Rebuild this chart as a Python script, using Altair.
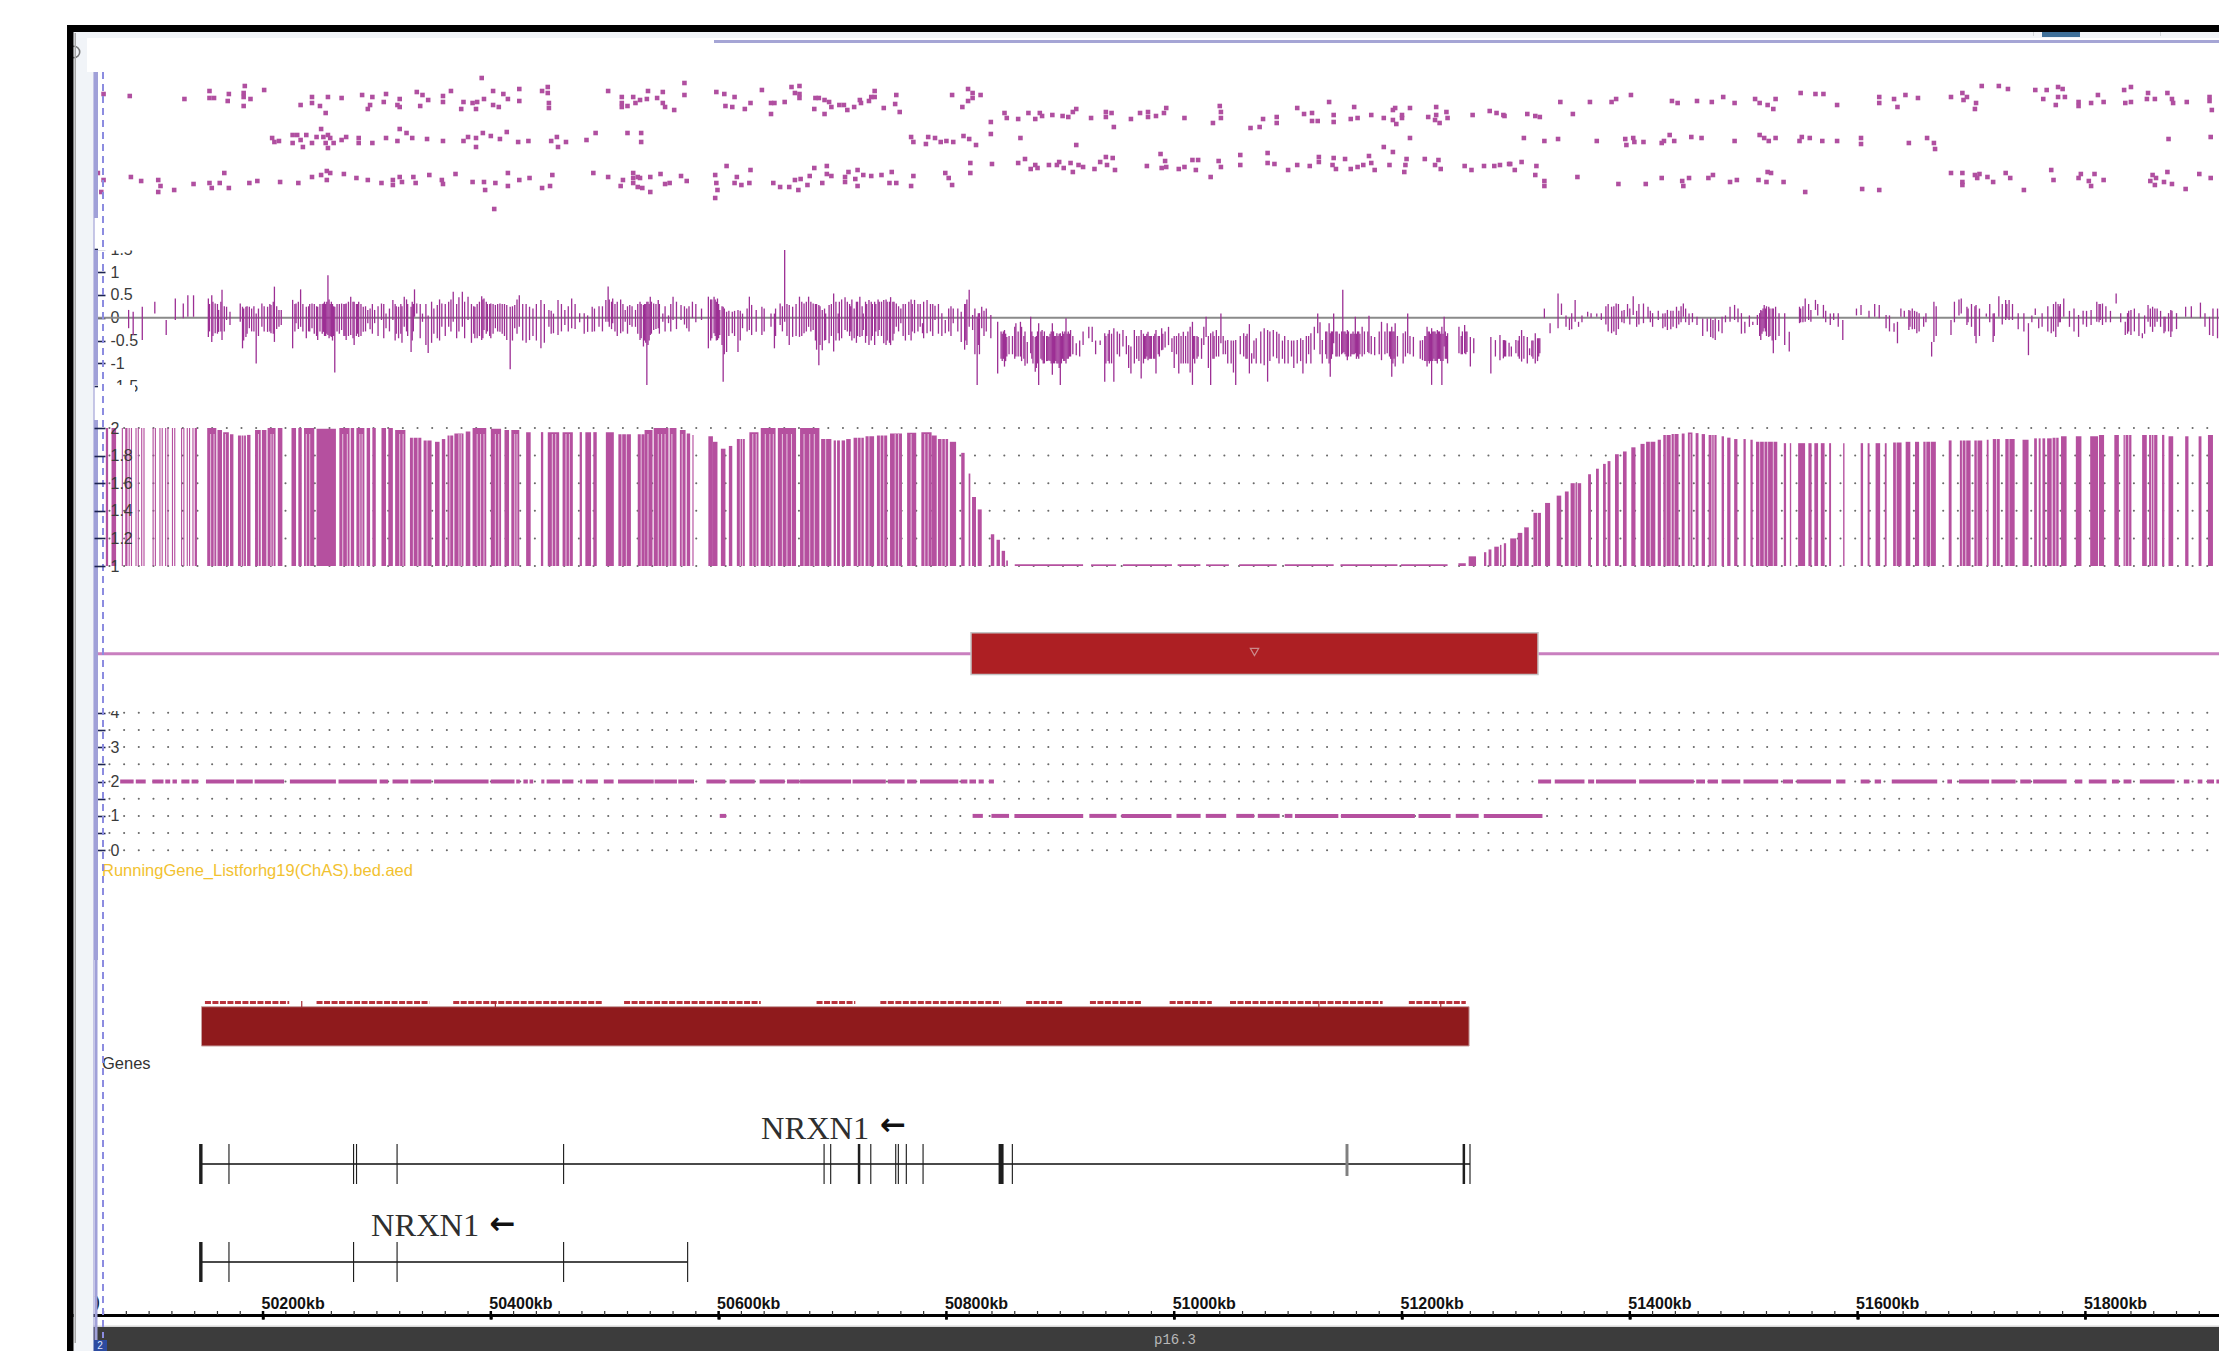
import altair as alt
import pandas as pd

W, H = 2211, 1343
X_MIN, X_MAX = 49976.1, 51917.3

# ---- track 1: scatter, three rows (kb, score)
scatter_top = [(50060,124),(50083,122),(50131,119),(50153,127),(50153,120),(50157,120),(50170,124),(50169,117),(50184,132),(50183,125),(50183,121),(50189,119),(50183,112),(50201,128),(50233,113),(50243,121),(50243,115),(50250,112),(50255,105),(50257,121),(50269,120),(50287,123),(50296,121),(50294,113),(50292,109),(50308,124),(50306,116),(50320,119),(50318,113),(50320,111),(50335,126),(50340,123),(50345,118),(50338,112),(50358,122),(50358,116),(50365,127),(50376,116),(50374,109),(50384,115),(50388,116),(50387,109),(50394,119),(50392,140),(50402,127),(50402,113),(50407,111),(50411,124),(50415,119),(50425,129),(50425,117),(50445,127),(50450,131),(50450,125),(50451,115),(50451,110),(50503,127),(50515,121),(50515,115),(50515,111),(50520,112),(50525,121),(50527,115),(50531,118),(50538,127),(50537,119),(50551,126),(50546,120),(50551,115),(50553,111),(50561,108),(50570,135),(50570,123),(50598,126),(50605,124),(50614,121),(50606,112),(50612,111),(50623,109),(50628,115),
(50638,128),(50646,115),(50649,115),(50646,104),(50658,116),(50664,131),(50671,132),(50667,125),(50671,124),(50671,120),(50685,120),(50688,120),(50684,109),(50693,118),(50697,116),(50693,104),(50699,111),(50706,113),(50710,113),(50713,108),(50719,111),(50724,118),(50725,115),(50732,117),(50737,127),(50734,121),(50737,121),(50745,110),(50756,123),(50755,114),(50759,106),(50805,123),(50814,111),(50819,129),(50823,125),(50823,120),(50819,117),(50830,123),(50839,96),(50851,105),(50853,100),(50863,99),(50872,105),(50878,99),(50882,105),(50884,102),(50893,103),(50902,102),(50907,101),(50911,106),(50914,109),(50927,100),(50940,106),(50940,101),(50945,105),(50947,91),(50962,99),(50970,105),(50977,106),(50977,101),(50984,102),(50991,105),(50993,110),(51009,100),(51040,112),(51041,106),(51041,100),(51034,95),(51067,90),(51075,91),(51078,99),(51090,101),(51090,95),(51108,110),(51114,104),(51121,105),(51121,97),(51126,97),(51136,116),(51140,103),(51140,96),(51155,99),(51158,111),(51161,100),(51173,103),(51184,100),(51192,108),(51194,110),(51200,103),(51207,110),(51192,98),(51195,94),(51200,100),(51223,101),(51230,111),(51230,103),(51229,98),(51233,95),(51239,106),(51240,100),(51262,103),(51277,107),(51283,105),(51289,103),
(51290,102),(51310,104),(51317,102),(51321,101),(51339,116),(51350,104),(51365,116),(51384,116),(51388,119),(51401,123),(51437,117),(51442,115),(51459,117),(51472,116),(51482,121),(51492,115),(51510,119),(51514,115),(51521,113),(51526,109),(51528,119),(51550,125),(51563,124),(51570,124),(51582,113),(51619,121),(51619,115),(51632,119),(51635,111),(51642,123),(51653,120),(51682,121),(51692,125),(51693,118),(51696,121),(51704,115),(51703,109),(51709,132),(51724,132),(51732,129),(51756,128),(51766,128),(51763,119),(51774,113),(51776,121),(51776,131),(51780,129),(51782,121),(51794,116),(51794,112),(51805,115),(51811,123),(51816,116),(51834,128),(51840,131),(51835,115),(51840,116),(51855,125),(51854,119),(51861,119),(51872,125),(51876,119),(51877,115),(51889,116),(51909,121),(51909,117),(51911,108)]
scatter_mid = [(50208,80),(50210,76),(50214,77),(50226,83),(50226,75),(50230,83),(50233,78),(50235,71),(50238,83),(50243,75),(50247,81),(50251,89),(50253,81),(50257,83),(50255,75),(50259,80),(50262,75),(50257,70),(50269,78),(50273,81),(50284,80),(50284,75),(50296,75),(50308,80),(50318,77),(50320,89),(50326,85),(50331,80),(50344,79),(50358,77),(50376,77),(50380,81),(50387,80),(50387,71),(50393,85),(50400,82),(50408,79),(50414,86),(50424,76),(50433,77),(50453,77),(50458,81),(50459,71),(50466,76),(50484,78),(50492,85),(50520,85),(50532,85),(50532,76),
(50769,81),(50771,76),(50782,74),(50784,81),(50790,80),(50795,76),(50800,77),(50806,76),(50815,82),(50820,79),(50826,73),(50839,84),(50865,80),(50914,73),(51207,80),
(51307,80),(51325,77),(51337,79),(51371,77),(51396,79),(51397,73),(51403,80),(51404,76),(51412,76),(51428,75),(51430,77),(51435,83),(51439,77),(51454,81),(51463,80),(51492,77),(51514,83),(51518,80),(51522,77),(51528,80),(51549,77),(51551,81),(51558,80),(51569,77),(51582,77),(51603,80),(51603,74),(51645,75),(51661,80),(51667,75),(51668,69),(51873,79),(51910,81)]
scatter_low = [(50055,45),(50060,38),(50058,26),(50084,41),(50093,37),(50108,38),(50110,32),(50108,26),(50122,28),(50139,34),(50153,35),(50155,30),(50162,35),(50166,45),(50170,30),(50188,35),(50195,37),(50215,36),(50231,35),(50243,41),(50251,43),(50256,47),(50259,45),(50256,38),(50271,44),(50282,40),(50292,38),(50304,35),(50314,38),(50314,33),(50322,36),(50320,41),(50332,41),(50334,35),(50346,43),(50357,38),(50358,34),(50369,44),(50384,36),(50394,36),(50395,28),(50404,35),(50403,9),(50415,45),(50415,32),(50425,38),(50434,40),(50445,30),(50452,32),(50454,43),(50490,45),(50503,41),(50516,38),(50514,32),(50525,45),(50525,40),(50525,35),(50529,41),(50529,31),(50531,40),(50533,30),(50540,41),(50540,26),(50549,44),(50553,34),(50557,35),(50567,42),(50572,37),(50597,43),(50598,35),(50599,28),(50597,20),(50607,52),(50614,35),(50616,41),(50620,33),(50628,48),(50627,35),
(50648,35),(50654,31),(50662,31),(50667,38),(50672,39),(50670,28),(50678,33),(50680,42),(50684,50),(50691,35),(50695,52),(50695,44),(50699,42),(50711,41),(50711,36),(50714,46),(50720,39),(50722,48),(50722,32),(50727,43),(50734,42),(50743,43),(50750,35),(50752,46),(50756,35),(50769,32),(50771,42),(50799,45),(50802,40),(50805,33),(50821,55),(50821,45),(50840,54),(50863,55),(50869,59),(50874,49),(50878,53),(50880,50),(50890,53),(50897,53),(50899,56),(50903,50),(50909,55),(50911,46),(50916,53),(50920,51),(50930,49),(50935,56),(50940,61),(50941,53),(50946,60),(50948,48),(50976,52),(50988,64),(50992,57),(50989,50),(50993,51),(51004,49),(51009,51),(51016,58),(51021,58),(51019,48),(51032,41),(51039,57),(51041,51),(51058,63),(51058,53),(51082,65),(51082,55),(51088,54),(51100,48),(51108,53),(51119,52),(51127,61),(51127,56),(51139,53),(51140,60),(51142,49),(51150,59),(51155,49),(51161,51),(51166,53),(51171,62),(51176,48),(51173,55),(51184,71),(51189,53),(51192,66),(51204,59),(51203,53),(51202,46),(51220,59),(51229,53),(51232,58),(51234,49),(51255,52),(51261,48),(51272,52),(51281,52),(51286,53),(51294,54),
(51295,54),(51305,56),(51299,48),(51318,52),(51317,43),(51325,37),(51325,32),(51354,41),(51390,34),(51414,34),(51428,40),(51446,37),(51447,32),(51452,40),(51469,40),(51473,43),(51488,36),(51494,38),(51513,38),(51521,46),(51524,45),(51520,36),(51535,36),(51554,26),(51604,29),(51619,28),(51682,45),(51692,45),(51692,36),(51692,33),(51703,43),(51705,40),(51707,44),(51714,41),(51719,36),(51730,45),(51734,40),(51746,28),(51770,48),(51772,38),(51794,40),(51796,44),(51803,37),(51808,44),(51805,32),(51816,38),(51857,37),(51859,43),(51861,33),(51862,40),(51869,36),(51872,46),(51876,34),(51888,29),(51900,44),(51910,40)]

# ---- track 2: log ratio spans (kb, high, low)
log_left = [(50082,.17,-.23),(50086,.13,-.38),(50094,.24,-.49),(50105,.35,.09),(50115,-.05,-.38),(50123,.42,-.05),(50130,.31,-.01),(50134,.49,.02),(50139,.49,.02),(50152,.42,-.42),(50155,.49,-.53),(50158,.31,-.34),(50161,.17,-.31),(50164,.61,-.49),(50168,.24,-.05),(50171,.13,-.16),(50180,.31,-.09),(50182,.24,-.67),(50185,.24,-.42),(50188,.24,-.23),(50194,.09,-1.0),(50199,.31,-.2),(50204,.24,-.31),(50207,.28,-.34),(50210,.68,-.53),(50214,.17,-.2),(50216,.17,-.16),(50226,.39,-.67),(50229,.31,-.12),(50233,.62,-.2),(50238,.24,-.45),(50243,.31,-.23),(50248,.24,-.49),(50250,.3,-.3),(50253,.31,-.31),(50255,.3,-.4),(50257,.93,-.38),(50260,.35,-.42),(50263,.24,-1.2),(50269,.31,-.27),(50271,.3,-.4),(50273,.31,-.49),(50277,.46,-.38),(50280,.35,-.6),(50282,.3,-.4),(50284,.35,-.42),(50288,.24,-.31),(50292,.17,-.12),(50298,.17,-.12),(50304,.31,-.05),(50308,.09,-.23),(50314,.39,-.05),(50319,.24,-.45),(50324,.46,-.2),(50330,.24,-.75),(50333,.62,.02),(50335,.31,.09),(50340,.09,-.09),(50345,.05,-.77),(50353,.28,-.45),(50357,.31,-.2),(50363,.35,-.2),(50367,.57,-.09),(50375,.57,-.2),(50380,.46,-.05),(50386,.24,-.45),(50392,.47,-.49),(50394,.42,-.27),(50397,.3,-.3),(50400,.31,-.45),(50404,.28,-.23),(50408,.31,-.31),(50414,.28,-.49),(50417,.24,-1.13),(50421,.28,-.23),(50425,.49,-.2),(50434,.24,-.49),(50444,.39,-.67),(50451,.17,-.2),(50455,.09,-.34),(50459,.39,-.38),(50465,.17,-.16),(50471,.42,-.23),(50485,.05,-.31),(50489,.24,-.31),(50501,.39,-.09),(50503,.68,-.09),(50507,.42,-.12),(50514,.4,-.34),(50518,.17,-.09),(50522,.28,-.16),(50527,.17,-.2),(50531,.35,-.49),(50534,.28,-.63),(50537,.35,-1.47),(50539,.3,-.5),(50540,.46,-.38),(50543,.31,-.27),(50547,.39,-.23),(50551,.09,-.09),(50556,.05,-.12),(50560,.46,-.05),(50567,.28,-.05),(50572,.2,-.23),(50577,.35,-.01),(50591,.46,-.67),(50596,.46,-.34),(50599,.42,-.49),(50601,.17,-.38),(50604,.24,-1.4),(50607,.13,-.75),(50612,.13,-.34),(50617,.17,-.75),(50621,.09,-.23),(50627,.46,-.27),(50629,.28,-.38),(50633,.17,-.31)]
log_left_dense = [(50153,.3,-.3),(50156,.35,-.4),(50160,.3,-.35),(50163,.35,-.3),(50166,.25,-.3),(50183,.2,-.5),(50186,.25,-.35),(50190,.2,-.3),(50192,.25,-.3),(50196,.2,-.4),(50201,.25,-.3),(50206,.3,-.3),(50209,.35,-.35),(50212,.25,-.25),(50228,.3,-.3),(50231,.35,-.25),(50235,.3,-.3),(50240,.25,-.3),(50241,.3,-.3),(50245,.3,-.35),(50247,.25,-.4),(50252,.3,-.35),(50254,.35,-.4),(50256,.35,-.35),(50258,.4,-.45),(50259,.3,-.4),(50261,.3,-.5),(50262,.25,-.4),(50265,.3,-.3),(50267,.3,-.35),(50272,.3,-.4),(50275,.35,-.4),(50279,.35,-.45),(50283,.3,-.35),(50286,.3,-.4),(50290,.25,-.3),(50294,.2,-.25),(50317,.25,-.35),(50321,.3,-.35),(50327,.3,-.4),(50331,.35,-.5),(50332,.3,-.3),(50385,.25,-.35),(50388,.3,-.45),(50390,.35,-.4),(50393,.4,-.45),(50396,.35,-.35),(50399,.3,-.4),(50402,.3,-.35),(50406,.3,-.3),(50410,.3,-.35),(50412,.3,-.4),(50504,.4,-.2),(50506,.35,-.25),(50509,.3,-.3),(50516,.3,-.3),(50524,.25,-.2),(50529,.3,-.35),(50532,.3,-.45),(50535,.3,-.5),(50536,.3,-.55),(50538,.35,-.6),(50541,.35,-.35),(50545,.3,-.25),(50593,.4,-.5),(50594,.4,-.45),(50597,.4,-.4),(50598,.35,-.5),(50600,.3,-.45),(50603,.25,-.6),(50605,.2,-.8),(50609,.15,-.4),(50614,.15,-.4),(50619,.15,-.5),(50625,.2,-.3)]
log_left_fill = [(50296,.3,-.35),(50301,.25,-.4),(50306,.3,-.45),(50311,.2,-.3),(50316,.3,-.5),(50322,.25,-.55),(50326,.4,-.3),(50338,.3,-.45),(50343,.3,-.6),(50348,.35,-.55),(50350,.2,-.35),(50355,.4,-.5),(50360,.3,-.4),(50365,.4,-.3),(50370,.3,-.45),(50372,.45,-.3),(50377,.35,-.45),(50383,.3,-.55),(50419,.25,-.5),(50423,.4,-.35),(50428,.3,-.5),(50431,.3,-.55),(50437,.2,-.4),(50440,.3,-.5),(50447,.3,-.55),(50453,.15,-.35),(50462,.3,-.3),(50468,.25,-.3),(50474,.3,-.25),(50478,.1,-.1),(50482,.1,-.35),(50491,.2,-.3),(50495,.25,-.2),(50498,.25,-.3),(50511,.35,-.4),(50520,.25,-.35),(50548,.3,-.35),(50553,.25,-.3),(50558,.3,-.3),(50563,.35,-.25),(50570,.25,-.15),(50574,.25,-.3),(50580,.3,-.1),(50585,.2,-.05)]
log_mid = [(50638,.24,-.38),(50646,.09,-.2),(50649,.09,-.67),(50654,.31,-.16),(50658,1.48,-.09),(50662,.28,-.6),(50665,.24,-.42),(50671,.46,-.42),(50675,.31,-.34),(50679,.46,-.2),(50683,.31,-.27),(50688,.28,-1.04),(50691,.17,-.71),(50694,.09,-.49),(50697,.28,-.56),(50701,.53,-.74),(50705,.09,-.34),(50711,.45,-.27),(50719,.2,-.45),(50724,.46,-.42),(50727,.09,-.27),(50732,.39,-.6),(50741,.35,-.27),(50745,.39,-.56),(50751,.45,-.6),(50756,.31,-.2),(50760,.2,-.12),(50767,.35,-.38),(50772,.39,-.34),(50779,-.12,-.34),(50783,.39,-.34),(50790,.26,-.05),(50799,-.05,-.34),(50806,.2,-.12),(50813,.13,-.53),(50820,.61,-.2),(50823,.06,-.27),(50827,.02,-1.47),(50831,.24,-.23),(50839,.06,-.45),(50845,-.09,-1.22),(50848,-.3,-.9),(50851,-.27,-1.07),(50853,-.42,-.85),(50858,-.4,-.8),(50861,-.12,-.85),(50865,-.09,-.85),(50871,-.53,-1),(50874,.02,-.78),(50878,-.42,-1.18),(50881,-.12,-1.47),(50884,-.27,-.93),(50886,-.3,-1),(50890,-.42,-.93),(50893,-.12,-1.25),(50895,-.4,-1),(50897,-.34,-1),(50900,-.34,-1.47),(50902,-.3,-.9),(50905,-.01,-1),(50907,-.3,-.9),(50909,-.27,-.85),(50914,-.56,-.82),(50928,-.2,-.53),(50939,-.34,-1.4),(50943,-.27,-1),(50947,-.23,-1.4),(50955,-.27,-.63),(50962,-.63,-1.22),(50965,-.27,-1),(50971,-.27,-1.33),(50974,-.4,-.9),(50977,-.31,-.93),(50980,-.4,-.9),(50984,-.27,-1.22),(50986,-.4,-.8),(50989,-.23,-.71),(50995,-.2,-.6),(51004,-.34,-1.22),(51008,-.31,-1),(51016,-.09,-1.47),(51021,-.42,-.85),(51028,.02,-.42),(51032,-.34,-1.47),(51037,-.27,-.85),(51041,.09,-.56),(51047,-.49,-1),(51054,-.49,-1.47),(51061,-.34,-.85),(51066,-.14,-1.22),(51068,-.78,-1),(51079,-.23,-1.04),(51082,-.27,-1.4),(51087,-.27,-.85),(51090,-.31,-.89),(51100,-.49,-1),(51108,-.49,-1),(51113,-.49,-1.22),(51120,-.34,-1),(51126,.09,-.34),(51130,-.49,-1),(51136,-.12,-1),(51137,-.34,-1.29),(51140,.09,-.56),(51148,.61,-.78),(51150,-.3,-.8),(51152,-.27,-.93),(51157,-.3,-.8),(51159,.02,-.78),(51162,-.3,-.9),(51165,-.2,-.85),(51171,.04,-.78),(51176,-.42,-.82),(51182,-.09,-.93),(51187,-.12,-.78),(51191,-.2,-1.29),(51194,-.12,-1.07),(51201,-.34,-1),(51205,.09,-.78),(51210,-.42,-.85),(51218,-.49,-.93),(51222,-.2,-1.07),(51224,-.3,-1),(51226,-.23,-1.47),(51228,-.3,-.9),(51231,-.27,-1),(51233,-.3,-.9),(51235,-.2,-1.47),(51237,.02,-.63),(51240,-.34,-1),(51250,-.2,-.78),(51255,-.16,-.78),(51260,-.42,-1.07),(51263,-.45,-.78),(51278,-.42,-1.22),(51282,-.49,-.85),(51286,-.38,-.93),(51289,-.49,-.89)]
log_mid_dense = [(50640,.2,-.3),(50650,.2,-.4),(50656,.25,-.3),(50660,.3,-.4),(50668,.3,-.4),(50673,.35,-.4),(50677,.35,-.3),(50681,.35,-.3),(50685,.3,-.5),(50686,.3,-.7),(50689,.25,-.6),(50693,.2,-.5),(50699,.3,-.4),(50703,.35,-.5),(50713,.35,-.3),(50716,.25,-.3),(50722,.35,-.4),(50730,.3,-.4),(50735,.3,-.4),(50738,.3,-.3),(50743,.35,-.4),(50748,.35,-.5),(50753,.35,-.5),(50758,.25,-.3),(50770,.3,-.3),(50775,.3,-.3),(50786,.3,-.3),(50828,.1,-.6),(50829,.1,-.8),(50849,-.35,-.95),(50850,-.3,-.9),(50852,-.35,-.95),(50855,-.4,-.8),(50868,-.4,-.9),(50875,-.3,-.9),(50876,-.4,-1),(50879,-.4,-1.1),(50880,-.3,-1),(50883,-.3,-.9),(50885,-.4,-1),(50888,-.4,-.95),(50889,-.4,-.95),(50891,-.35,-.95),(50892,-.3,-1),(50894,-.3,-1),(50896,-.4,-.95),(50898,-.4,-1),(50899,-.35,-1.1),(50901,-.4,-1),(50903,-.35,-.95),(50904,-.3,-.95),(50906,-.35,-.9),(50908,-.35,-.85),(50911,-.4,-.8),(50940,-.4,-1),(50942,-.35,-.95),(50945,-.35,-1),(50969,-.4,-.95),(50973,-.35,-1),(50975,-.4,-.9),(50976,-.35,-.85),(50978,-.4,-.9),(50979,-.4,-.9),(50982,-.4,-.9),(50983,-.35,-.9),(50987,-.4,-.85),(50990,-.35,-.7),(51006,-.4,-1),(51010,-.4,-1),(51017,-.4,-.9),(51018,-.4,-1),(51020,-.4,-.9),(51035,-.4,-.9),(51039,-.4,-.85),(51043,-.4,-.8),(51063,-.4,-.9),(51064,-.35,-.9),(51133,-.3,-.8),(51138,-.3,-.9),(51139,-.3,-.8),(51142,-.3,-.85),(51143,-.3,-.85),(51145,-.35,-.85),(51147,-.3,-.8),(51149,-.3,-.75),(51151,-.35,-.85),(51153,-.3,-.85),(51155,-.35,-.85),(51156,-.35,-.8),(51158,-.35,-.8),(51160,-.35,-.9),(51161,-.3,-.85),(51163,-.35,-.8),(51167,-.3,-.8),(51170,-.3,-.75),(51173,-.4,-.8),(51180,-.3,-.8),(51185,-.3,-.8),(51189,-.3,-.85),(51190,-.3,-.9),(51192,-.3,-1),(51193,-.3,-.9),(51196,-.4,-.85),(51203,-.3,-.85),(51207,-.4,-.8),(51216,-.5,-.9),(51220,-.4,-.95),(51221,-.4,-.95),(51223,-.3,-.95),(51225,-.35,-.95),(51227,-.3,-.95),(51229,-.3,-.95),(51230,-.35,-.95),(51232,-.3,-.9),(51234,-.35,-.95),(51236,-.35,-.95),(51238,-.3,-.9),(51239,-.4,-.9),(51252,-.4,-.8),(51253,-.3,-.8),(51256,-.3,-.8),(51257,-.3,-.75)]
log_mid_fill = [(50706,.35,-.5),(50708,.4,-.45),(50715,.3,-.4),(50717,.4,-.5),(50721,.35,-.55),(50726,.25,-.4),(50729,.35,-.55),(50734,.35,-.5),(50737,.35,-.6),(50740,.4,-.4),(50747,.4,-.6),(50750,.35,-.55),(50754,.35,-.35),(50762,.3,-.4),(50764,.3,-.5),(50769,.4,-.5),(50777,.3,-.2),(50780,.35,-.45),(50788,.3,-.4),(50793,.3,-.35),(50796,.1,-.4),(50802,.2,-.3),(50804,.25,-.4),(50810,.2,-.3),(50816,.3,-.7),(50817,.3,-.5),(50818,.4,-.6),(50825,.2,-.8),(50833,.15,-.4),(50835,.2,-.3),(50860,-.2,-.9),(50863,-.3,-.85),(50866,-.2,-.95),(50869,-.3,-1.05),(50917,-.5,-.85),(50920,-.3,-.6),(50925,-.2,-.45),(50931,-.5,-.8),(50935,-.5,-.6),(50950,-.3,-.8),(50952,-.35,-.85),(50958,-.4,-.8),(50960,-.6,-1.1),(50967,-.4,-.9),(50992,-.3,-.65),(50998,-.45,-.75),(51000,-.4,-1.1),(51002,-.4,-.8),(51012,-.3,-1),(51014,-.2,-1.2),(51024,-.45,-.9),(51026,-.2,-.6),(51030,-.4,-1.1),(51034,-.3,-.9),(51045,-.5,-.8),(51050,-.5,-1),(51052,-.5,-1.2),(51058,-.4,-.8),(51070,-.5,-.9),(51072,-.45,-1),(51076,-.3,-1),(51084,-.3,-.95),(51092,-.35,-1),(51095,-.5,-.9),(51097,-.4,-1),(51103,-.5,-.85),(51105,-.5,-1.1),(51111,-.45,-.95),(51116,-.4,-1),(51118,-.4,-.8),(51123,-.2,-.7),(51128,-.1,-.8),(51134,-.3,-.9)]
log_right = [(51290,-.49,-.85),(51296,-.63,-.85),(51300,-.49,-.78),(51305,-.27,-.96),(51310,-.42,-1),(51312,-.67,-.82),(51317,-.34,-1),(51321,-.45,-.78),(51325,.2,-.01),(51330,-.12,-.34),(51337,.53,-.23),(51340,.31,.06),(51347,-.01,-.27),(51352,.39,-.09),(51355,-.09,-.2),(51363,.13,.02),(51371,.09,.02),(51384,.24,-.34),(51388,.31,-.38),(51395,.17,-.12),(51403,.47,.06),(51412,.31,-.12),(51416,.24,-.01),(51429,.09,-.23),(51433,.17,-.27),(51441,.24,-.23),(51447,.31,.02),(51452,.09,-.16),(51459,.02,-.16),(51471,-.01,-.42),(51475,-.01,-.49),(51481,.02,-.34),(51488,.24,-.09),(51492,.28,-.05),(51501,-.09,-.34),(51508,-.09,-.16),(51512,.06,-.16),(51515,.17,-.49),(51518,.28,-.23),(51522,.24,-.42),(51526,.2,-.78),(51528,.24,-.49),(51540,-.31,-.74),(51549,.24,-.12),(51554,.42,-.09),(51559,.17,-.09),(51563,.39,.17),(51570,.28,-.01),(51576,.09,-.16),(51587,-.05,-.49),(51603,.28,.06),(51619,.28,-.01),(51625,.06,-.23),(51632,-.12,-.31),(51635,-.09,-.56),(51638,.2,.02),(51645,.17,-.27),(51652,.13,-.34),(51658,.02,-.2),(51665,-.53,-.85),(51667,.35,-.53),(51682,-.05,-.38),(51691,.42,.09),(51696,.24,-.16),(51704,.28,-.56),(51713,.09,.02),(51719,.09,-.53),(51724,.47,.02),(51730,.39,-.05),(51733,.39,-.05),(51750,-.12,-.82),(51756,.2,.06),(51759,-.01,-.23),(51770,.02,-.34),(51774,.35,-.42),(51781,.42,.02),(51794,.06,-.42),(51805,.17,-.16),(51810,.35,-.09),(51815,.31,-.16),(51827,.53,.31),(51835,-.09,-.38),(51840,.17,-.38),(51850,-.34,-.45),(51855,.28,-.09),(51859,.24,-.31),(51863,.2,-.09),(51869,.02,-.34),(51875,.17,-.42),(51888,.24,.02),(51901,.33,-.01),(51909,.02,-.38),(51916,.2,-.45)]
log_right_dense = [(51291,-.5,-.85),(51294,-.55,-.85),(51302,-.5,-.85),(51303,-.4,-.9),(51307,-.4,-.9),(51314,-.5,-.85),(51315,-.5,-.9),(51319,-.45,-.95),(51320,-.45,-.85),(51386,.25,-.3),(51393,.15,-.1),(51431,.1,-.2),(51436,.15,-.25),(51438,.15,-.2),(51514,.1,-.4),(51516,.15,-.35),(51517,.2,-.3),(51519,.2,-.3),(51520,.25,-.4),(51523,.2,-.4),(51525,.2,-.5),(51550,.2,-.1),(51552,.25,-.1),(51646,.15,-.2),(51650,.15,-.25),(51654,.1,-.3),(51697,.2,-.1),(51703,.25,-.4),(51720,.1,-.4),(51731,.3,0),(51772,.3,-.3),(51776,.3,-.2),(51778,.3,-.1),(51812,.3,-.1),(51813,.3,-.05),(51837,.1,-.35),(51838,.15,-.3),(51857,.2,-.2),(51861,.2,-.2),(51870,.02,-.3),(51876,.15,-.3)]
log_right_fill = [(51344,.05,-.2),(51349,.1,-.25),(51358,.05,-.1),(51366,.1,0),(51375,.1,-.05),(51379,.25,-.15),(51381,.3,-.3),(51390,.3,-.25),(51398,.3,.02),(51400,.2,-.15),(51406,.15,-.2),(51408,.3,-.15),(51418,.15,-.1),(51420,.1,-.2),(51425,.15,-.05),(51443,.15,-.15),(51445,.25,-.1),(51449,.2,-.1),(51455,.1,-.1),(51464,-.02,-.4),(51468,-.02,-.3),(51473,-.05,-.45),(51478,-.05,-.3),(51484,.05,-.1),(51495,.2,-.1),(51498,.1,-.35),(51505,.05,-.2),(51531,.1,-.4),(51536,.1,-.6),(51557,.3,-.05),(51565,.3,.05),(51572,.15,-.1),(51579,.1,-.05),(51583,.1,-.2),(51599,.2,.05),(51610,.15,0),(51615,.3,.02),(51628,.05,-.3),(51641,.15,.01),(51648,.2,-.25),(51660,.1,-.1),(51669,.25,-.4),(51685,.35,-.1),(51689,.4,.05),(51700,.3,-.2),(51707,.2,-.4),(51716,.3,-.1),(51727,.3,-.15),(51736,.3,-.05),(51741,.1,-.25),(51746,.1,-.3),(51753,.05,-.1),(51762,.1,-.2),(51767,.25,-.3),(51777,.25,-.1),(51786,.15,-.2),(51790,.2,-.3),(51798,.15,-.15),(51801,.15,-.2),(51818,.25,-.1),(51822,.15,-.1),(51831,.1,-.1),(51843,.2,-.3),(51847,.1,-.4),(51852,.05,-.35),(51866,.15,-.2),(51873,.1,-.3),(51880,.1,-.25),(51893,.25,.0),(51905,.1,-.2),(51912,.2,-.4)]

# ---- track 3: coverage bars (start kb, end kb, top value)
bars_left = [(50062,50064,2),(50067,50071,2),(50076,50077,2),(50079,50081,2),(50082,50083,2),(50084,50085,2),(50088,50089,2),(50090,50091,2),(50093,50094,2),(50095,50096,2),(50103,50104,2),(50105,50106,2),(50109,50110,2),(50111,50112,2),(50114,50115,2),(50116,50117,2),(50120,50121,2),(50122,50123,2),(50128,50129,2),(50130,50131,2),(50133,50134,2),(50135,50136,2),(50138,50139,2),(50140,50142,2),
(50151,50159,2),(50160,50164,1.985),(50165,50170,1.97),(50171,50174,1.955),(50178,50185,1.945),(50186,50189,1.95),(50193,50198,1.985),(50199,50203,1.985),(50204,50211,2),(50213,50217,2),(50225,50229,2),(50231,50234,2),(50236,50245,2),(50247,50264,1.995),(50267,50276,2),(50277,50280,2),(50282,50289,2),(50291,50294,2),(50296,50299,2),(50304,50308,2),(50310,50314,2),(50316,50325,1.985),(50329,50339,1.93),(50341,50348,1.91),(50351,50355,1.90),(50357,50360,1.92),(50362,50367,1.945),(50368,50376,1.96),(50378,50382,1.975),(50384,50396,2),(50400,50409,1.995),(50412,50416,1.985),(50418,50425,1.985),(50431,50435,1.97),(50444,50446,1.97),(50450,50460,1.97),(50463,50472,1.97),(50478,50480,1.97),(50483,50488,1.97),(50490,50493,1.97),(50501,50508,1.97),(50512,50523,1.955),(50529,50535,1.955),(50535,50542,1.985),(50543,50556,2),(50557,50563,2),(50566,50571,1.985),(50572,50575,1.96),(50577,50578,1.95),(50591,50595,1.94),(50595,50599,1.90),(50602,50606,1.85),(50609,50612,1.87),(50616,50623,1.92),(50627,50635,1.97),(50637,50650,2),(50652,50668,2)]
bars_mid = [(50671.5,50688.5,2),(50690,50699,1.92),(50701,50703,1.91),(50704,50706.5,1.91),(50708,50711,1.91),(50712,50716,1.92),(50718.5,50727.5,1.93),(50729,50736.5,1.94),(50739,50748,1.945),(50750.5,50761,1.96),(50765.5,50773.5,1.965),(50778,50787,1.97),(50787,50791.5,1.945),(50792.5,50801.5,1.92),(50803,50808.5,1.90),(50813,50816,1.82),(50819.5,50821,1.67),(50822.5,50826,1.5),(50827.5,50831,1.41),(50839,50842,1.23),(50844,50847,1.19),(50848.5,50851.5,1.11),(50852.5,50854,1.04),
(50860,50920,1.012),(50927,50949,1.012),(50955,50998,1.012),(51003,51023,1.012),(51028,51048,1.012),(51057,51090,1.012),(51097,51140,1.012),(51146,51196,1.012),(51199,51240,1.012),(51249.5,51256,1.02),(51258.5,51265,1.07),(51272,51274,1.10),(51276,51278.5,1.12),(51281,51285,1.14)]
bars_right = [(51286,51287.3,1.153),(51289.4,51291.4,1.165),(51295,51300.3,1.20),(51301.6,51305.6,1.24),(51307.3,51311.3,1.28),(51315.4,51322,1.385),(51325.6,51330,1.457),(51335.8,51339.8,1.51),(51343,51346.3,1.54),(51348,51357.3,1.60),(51363.4,51365.9,1.665),(51370.3,51372.8,1.705),(51376.5,51378.9,1.74),(51380.5,51383,1.76),(51387,51390.3,1.81),(51394,51397.2,1.83),(51401.3,51405,1.86),(51409.4,51413,1.885),(51414.3,51422.4,1.90),(51424.5,51427.3,1.915),(51429.4,51435.9,1.95),(51436.7,51442.8,1.956),(51445.6,51448.1,1.96),(51451,51455,1.968),(51457.8,51460.3,1.963),(51463.1,51466,1.956),(51469.2,51476.2,1.95),(51480.6,51482.7,1.94),(51485.5,51488.4,1.93),(51491.6,51494.5,1.92),(51499.8,51501.8,1.92),(51505.9,51507.9,1.915),(51510.8,51529.5,1.90),(51535.2,51537.2,1.89),(51540.5,51541.7,1.89),(51547.8,51553.9,1.89),(51556.8,51559.6,1.89),(51562,51565.3,1.89),(51567.7,51571,1.89),(51575,51576.7,1.89),(51587.3,51588.5,1.89),(51602.7,51604.8,1.89),(51608.8,51610.5,1.89),(51615.8,51619.8,1.89),(51623.9,51625.5,1.89),(51631.2,51638.6,1.895),(51642.2,51646.3,1.90),(51650.4,51654,1.90),(51657.7,51668.7,1.90),(51680,51682.5,1.91),(51689.8,51699.2,1.91),(51702.5,51709.4,1.91),(51713.4,51715,1.915),(51718.7,51724.8,1.92),(51729.7,51737.9,1.92),(51744.8,51750.1,1.915),(51755,51757.4,1.925),(51759,51760.7,1.925),(51762.3,51764.7,1.925),(51766.4,51770.4,1.925),(51771.2,51776.5,1.93),(51778.6,51783.5,1.94),(51791.6,51796.5,1.94),(51804.2,51811.1,1.94),(51811.9,51816.4,1.95),(51825.4,51829.4,1.95),(51833.5,51840.4,1.95),(51849.8,51853.9,1.95),(51855.9,51863.2,1.95),(51867.3,51869.3,1.95),(51873,51877.1,1.94),(51887.6,51890.5,1.94),(51899.4,51901.9,1.94),(51907.6,51912,1.95)]
# hairline breaks inside the solid coverage blocks (kb)
cov_breaks = [50154,50157,50167,50181,50183,50196,50207,50209,50238,50241,50270,50274,50285,50287,50320,50323,50332,50336,50344,50364,50372,50374,50388,50391,50394,50404,50407,50421,50423,50454,50457,50466,50469,50515,50519,50532,50538,50547,50550,50553,50559,50568,50619,50621,50630,50633,50641,50645,50648,50656,50660,50664,50675,50680,50684,50694,50722,50725,50732,50742,50745,50755,50758,50769,50781,50784,50796,50799,51319,51352,51354,51418,51432,51439,51453,51472,51474,51514,51518,51521,51526,51634,51660,51664,51692,51695,51705,51722,51733,51774,51835,51838,51858,51860]

# ---- track 4: CNV call
cnv_start, cnv_end = 50821.6, 51319.4

# ---- track 5: copy-number state segments (start kb, end kb)
cn2_segments = [(50074.6,50086.4),(50088.3,50097),(50102.8,50112.6),(50114.2,50118.5),(50120.5,50124.4),(50128.3,50135.4),(50137.3,50143.2),(50149.9,50174.6),(50176.5,50191),(50192.6,50218.5),(50223.6,50264),(50266.3,50300),(50302.4,50309.8),(50313.7,50327.5),(50329.4,50347.8),(50350.2,50398),(50400,50420.8),(50422.3,50425.5),(50428.6,50432.5),(50434,50437.2),(50444.3,50447),(50449,50460.7),(50462.7,50472.5),(50478.4,50480.3),(50483.5,50494),(50499.2,50507.8),(50511.7,50543),(50543.8,50563.4),(50564.6,50578.4),(50589.3,50605.8),(50609.7,50631.7),(50636,50658),(50660,50671),
(50671.5,50716.3),(50717.6,50746.8),(50748.6,50763.3),(50765.5,50773.6),(50776.8,50810.4),(50812.6,50818.4),(50820.2,50826),(50828.3,50832.8),(50837.3,50841.7),
(51319.5,51330.9),(51334.1,51360.2),(51363.4,51368.7),(51370.3,51405.4),(51408.2,51456.2),(51458.3,51466),(51468.4,51477.4),(51480.6,51497),(51499.8,51530.3),(51534.4,51543.3),(51546.6,51576.7),(51581.2,51589.3),(51602.7,51610.5),(51615,51620.6),(51630,51669.9),(51678.8,51682.9),(51689,51715.5),(51717.5,51738.7),(51742.8,51752.1),(51754.1,51783.5),(51790.8,51797.3),(51803,51818.5),(51823.3,51829.4),(51833.5,51840.4),(51847.8,51878.3),(51886.4,51891.3),(51898.6,51902.7),(51906.8,51912.9),(51915,51917.3)]
cn1_segments = [(50601,50606.6),(50823,50832),(50839.5,50855),(50859.7,50920.1),(50925.5,50949.3),(50953.7,50997.6),(51002,51023.2),(51027.7,51045.6),(51054.5,51070.2),(51073.4,51092.6),(51097,51103.8),(51106,51144.1),(51146.4,51211.3),(51214.5,51242.7),(51247.2,51267.3),(51271.8,51323.3)]

# ---- annotation band and hidden text fragments above it
band_start, band_end = 50146, 51258.9
band_text_runs = [(50149,50223),(50247,50346),(50367,50498),(50517,50637),(50686,50720),(50742,50848),(50870,50902),(50926,50972),(50996,51033),(51049,51183),(51206,51256)]
band_text_ticks = [50234,50404,51127,51234]

# ---- genes (exon start kb, exon end kb)
gene1_exons = [(50143.9,50146.9),(50169.6,50170.6),(50279,50280),(50281.6,50282.6),(50317.2,50318.2),(50463.4,50464.4),(50692.1,50693.1),(50697.9,50698.9),(50722.2,50724.4),(50733.1,50734.1),(50755,50756),(50757.3,50758.3),(50764.3,50765.3),(50779,50780),(50845.8,50850.2),(50857.4,50858.4),(51253.2,51255.4),(51259.2,51260.2)]
gene1_pale_exons = [(51150.4,51153)]
gene2_exons = [(50143.9,50146.9),(50169.6,50170.6),(50279,50280),(50317.2,50318.2),(50463.4,50464.4),(50572.3,50573.3)]
gene1_span = (50145.4,51259.7)
gene2_span = (50145.4,50572.8)
gene_name = "NRXN1"
band_name = "p16.3"
track_label = "RunningGene_Listforhg19(ChAS).bed.aed"
genes_label = "Genes"

major_ticks = list(range(50200, 52000, 200))
minor_ticks = [k for k in range(50060, 51920, 20) if k % 200]
log_ticks = [-1.5,-1,-.5,0,.5,1,1.5]
cov_ticks = [1,1.2,1.4,1.6,1.8,2]
cn_ticks = [0,.5,1,1.5,2,2.5,3,3.5,4]

PINK = "#b5509f"
AXF = "Liberation Sans"
xs = alt.Scale(domain=[X_MIN, X_MAX], nice=False, zero=False)
# one shared position axis: every layer carries the same definition so it merges into a single axis;
# the labels sit above the line through a negative padding of a bottom axis
x_axis = alt.Axis(orient="bottom", offset=-(H - 1307), values=major_ticks, title=None, grid=False,
                  labelExpr="datum.value + 'kb'", labelFont=AXF, labelFontSize=16, labelFontWeight="bold",
                  labelColor="#111", labelAlign="left", labelBaseline="alphabetic", labelPadding=-11,
                  labelOffset=-2, labelFlush=False, labelOverlap=False, labelBound=False,
                  domainColor="#000", domainWidth=3, tickColor="#000", tickSize=4, tickWidth=2.5)
NOX = alt.X("kb:Q", scale=xs, axis=x_axis)
dummy = pd.DataFrame({"a": [0]})

def box(x0, x1, y0, y1, color, **kw):
    return alt.Chart(dummy).mark_rect(color=color, **kw).encode(
        x=alt.value(x0 - 8), x2=alt.value(min(x1 - 8, W)), y=alt.value(y0 - 8), y2=alt.value(min(y1 - 8, H)))

def txt(s, x, y, size, color, font=AXF, weight="normal", align="left", baseline="middle"):
    return alt.Chart(dummy).mark_text(text=s, font=font, fontSize=size, fontWeight=weight, color=color,
                                      align=align, baseline=baseline).encode(x=alt.value(x - 8), y=alt.value(y - 8))

def yaxis(ticks, expr, z=0):
    return alt.Axis(orient="right", offset=-(W - 86), values=ticks, title=None, grid=False, domain=False,
                    tickColor="#1c2450", tickSize=11, tickWidth=1.6, labelFont=AXF, labelFontSize=16,
                    labelColor="#3a3a3a", labelPadding=5, labelExpr=expr, labelOverlap=False,
                    labelFlush=False, labelBound=False, zindex=z)

def griddots(levels, dom, rng, axis):
    return alt.Chart(pd.DataFrame({"v": levels})).mark_rule(
        strokeDash=[0.1, 14.57], strokeCap="round", strokeWidth=2, color="#6a6a6a").encode(
        y=alt.Y("v:Q", scale=alt.Scale(domain=dom, range=rng, nice=False, zero=False), axis=axis),
        x=alt.value(101.4), x2=alt.value(W))

# scatter
SY = alt.Scale(domain=[0, 146], range=[210, 64], nice=False, zero=False)
df_sc = pd.DataFrame(scatter_top + scatter_mid + scatter_low, columns=["kb", "s"])
scatter = alt.Chart(df_sc).mark_square(size=21, color="#b04fa0", opacity=1).encode(
    x=NOX, y=alt.Y("s:Q", scale=SY, axis=None))

# log ratio
LD, LR = [-1.5, 1.5], [378.25, 241.15]
df_log = pd.DataFrame(log_left + log_left_dense + log_left_fill + log_mid + log_mid_dense + log_mid_fill
                      + log_right + log_right_dense + log_right_fill, columns=["kb", "hi", "lo"])
log_lines = alt.Chart(df_log).mark_rule(color="#9c2f94", strokeWidth=1.3).encode(
    x=NOX, y=alt.Y("hi:Q", scale=alt.Scale(domain=LD, range=LR, nice=False, zero=False), axis=None), y2="lo:Q")
log_base = alt.Chart(pd.DataFrame({"v": [0]})).mark_rule(color="#8a8a8a", strokeWidth=2).encode(
    y=alt.Y("v:Q", scale=alt.Scale(domain=LD, range=LR, nice=False, zero=False),
            axis=yaxis(log_ticks, "'' + datum.value")),
    x=alt.value(86), x2=alt.value(W))

# coverage
CD, CR = [1, 2], [558, 420]
cov_grid = griddots(cov_ticks, CD, CR, yaxis(cov_ticks, "'' + datum.value", z=1))
df_bars = pd.DataFrame(bars_left + bars_mid + bars_right, columns=["kb", "kb2", "top"])
df_bars["base"] = 1
cov_bars = alt.Chart(df_bars).mark_rect(color=PINK).encode(
    x=NOX, x2="kb2:Q", y=alt.Y("top:Q", scale=alt.Scale(domain=CD, range=CR, nice=False, zero=False), axis=None), y2="base:Q")
cov_hair = alt.Chart(pd.DataFrame({"kb": cov_breaks})).mark_rule(color="#ffffff", strokeWidth=0.8, opacity=0.85).encode(
    x=NOX, y=alt.value(CR[0]), y2=alt.value(CR[1] + 6))

# CNV call
cnv_line = alt.Chart(dummy).mark_rule(color="#c97fbf", strokeWidth=3).encode(
    x=alt.value(86), x2=alt.value(W), y=alt.value(645.7))
cnv_box = alt.Chart(pd.DataFrame({"kb": [cnv_start], "kb2": [cnv_end]})).mark_rect(
    color="#ad1f23", stroke="#c4c4c4", strokeWidth=1.5).encode(x=NOX, x2="kb2:Q", y=alt.value(624.7), y2=alt.value(666.5))
cnv_tri = alt.Chart(pd.DataFrame({"kb": [(cnv_start + cnv_end) / 2]})).mark_point(
    shape="triangle-down", size=70, filled=False, color="#d8b8b8", strokeWidth=1.2).encode(x=NOX, y=alt.value(644))

# copy number
ND, NR = [0, 4], [842.3, 704.7]
cn_grid = griddots(cn_ticks, ND, NR, yaxis(cn_ticks, "datum.value % 1 == 0 ? '' + datum.value : ''"))
df_cn = pd.DataFrame([(a, b, 2) for a, b in cn2_segments] + [(a, b, 1) for a, b in cn1_segments], columns=["kb", "kb2", "v"])
cn_segs = alt.Chart(df_cn).mark_rule(color=PINK, strokeWidth=4).encode(
    x=NOX, x2="kb2:Q", y=alt.Y("v:Q", scale=alt.Scale(domain=ND, range=NR, nice=False, zero=False), axis=None))

# annotation band
band = alt.Chart(pd.DataFrame({"kb": [band_start], "kb2": [band_end]})).mark_rect(
    color="#8f1a1c", stroke="#c9a0a0", strokeWidth=1).encode(x=NOX, x2="kb2:Q", y=alt.value(998.7), y2=alt.value(1038))
band_runs = alt.Chart(pd.DataFrame(band_text_runs, columns=["kb", "kb2"])).mark_rule(
    color="#b8323c", strokeWidth=3, strokeDash=[6, 1.5]).encode(x=NOX, x2="kb2:Q", y=alt.value(994.5))
band_tk = alt.Chart(pd.DataFrame({"kb": band_text_ticks})).mark_rule(color="#a82c34", strokeWidth=1.2).encode(
    x=NOX, y=alt.value(993), y2=alt.value(999))

# genes
def gene(span, exons, y):
    line = alt.Chart(pd.DataFrame({"kb": [span[0]], "kb2": [span[1]]})).mark_rule(color="#4a4a4a", strokeWidth=2).encode(
        x=NOX, x2="kb2:Q", y=alt.value(y - 8))
    ex = alt.Chart(pd.DataFrame(exons, columns=["kb", "kb2"])).mark_rect(color="#1e1e1e").encode(
        x=NOX, x2="kb2:Q", y=alt.value(y - 28), y2=alt.value(y + 12))
    return [line, ex]

pale_exon = alt.Chart(pd.DataFrame(gene1_pale_exons, columns=["kb", "kb2"])).mark_rect(color="#808080").encode(
    x=NOX, x2="kb2:Q", y=alt.value(1136), y2=alt.value(1168))

minor = alt.Chart(pd.DataFrame({"kb": minor_ticks})).mark_rule(color="#333", strokeWidth=1.2).encode(
    x=NOX, y=alt.value(1303), y2=alt.value(1307))
major_low = alt.Chart(pd.DataFrame({"kb": major_ticks})).mark_rule(color="#000", strokeWidth=2.5).encode(
    x=NOX, y=alt.value(1303), y2=alt.value(1311.5))

layers = [
    minor,
    cov_grid, cn_grid, log_base,
    major_low,
    scatter, log_lines, cov_bars, cov_hair, cnv_line, cnv_box, cnv_tri, cn_segs,
    band, band_runs, band_tk,
    *gene(gene1_span, gene1_exons, 1164), pale_exon, *gene(gene2_span, gene2_exons, 1262),
    # track masks that crop the outer tick labels
    box(98, 135, 218, 250.5, "#ffffff"), box(98, 135, 385, 420, "#ffffff"), box(98, 135, 690, 711, "#ffffff"),
    # texts
    txt(track_label, 102, 871, 16.5, "#f2c230"),
    txt(genes_label, 102, 1064, 16.5, "#333333"),
    txt(gene_name, 761, 1139, 32.5, "#2f2f2f", font="Liberation Serif", baseline="alphabetic"),
    txt("\u2190", 893, 1126, 31, "#111111", font="DejaVu Sans", weight="bold", align="center"),
    txt(gene_name, 371, 1235.5, 32.5, "#2f2f2f", font="Liberation Serif", baseline="alphabetic"),
    txt("\u2190", 502.5, 1225, 31, "#111111", font="DejaVu Sans", weight="bold", align="center"),
    # window chrome
    box(93, 2235, 1327, 1360, "#3c3c3c"),
    box(93, 2235, 1325.5, 1327, "#d8d8d8"),
    txt(band_name, 1175, 1340, 14, "#b8b8b8", font="Liberation Mono", align="center"),
    box(93, 107, 1340, 1360, "#2d4ba0"),
    txt("2", 100, 1346, 10, "#dfe6ff", align="center"),
    box(8, 67, 1280, 1360, "#ffffff"),
    box(73.5, 2235, 32, 38, "#f1f4f8"),
    box(73.5, 87, 32, 72, "#f1f4f8"),
    box(73.5, 93.5, 72, 1360, "#f1f4f8"),
    txt(")", 95, 1303, 14, "#111", weight="bold"),
    alt.Chart(dummy).mark_point(shape="circle", size=130, filled=False, color="#444", strokeWidth=1.6).encode(
        x=alt.value(66), y=alt.value(44)),
    box(67, 73.5, 25, 1360, "#000000"),
    box(67, 2235, 25, 32, "#000000"),
    box(74.5, 76, 33, 1343, "#a8a8a8"),
    box(714, 2235, 40, 43, "#a5a5d5"),
    box(2042, 2080, 32, 37, "#3f7099"),
    box(2033, 2034, 32, 36, "#d0d4d8"),
    box(2160, 2161, 32, 36, "#d0d4d8"),
    box(93.5, 94.5, 72, 1340, "#8f8fd0"),
    box(94, 98, 72, 218, "#a0a0d8"),
    box(94, 98, 250, 385, "#a0a0d8"),
    box(94, 98, 420, 960, "#a0a0d8"),
    box(95, 97.5, 960, 1340, "#a0a0d8"),
    alt.Chart(dummy).mark_rule(color="#8c8ce0", strokeWidth=2, strokeDash=[7, 5]).encode(
        x=alt.value(95), y=alt.value(64), y2=alt.value(1330)),
]

chart = alt.layer(*layers).resolve_scale(y="independent").properties(
    width=W, height=H, padding=0, autosize=alt.AutoSizeParams(type="none"), background="#ffffff"
).configure_view(stroke=None)

chart.save("out.html", embed_options={"renderer": "svg", "actions": False})
